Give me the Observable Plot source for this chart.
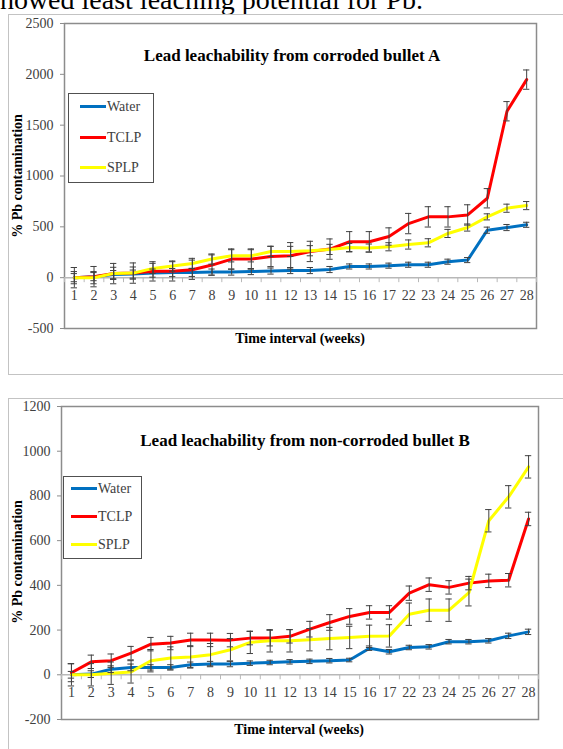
<!DOCTYPE html>
<html>
<head>
<meta charset="utf-8">
<script src="https://cdn.jsdelivr.net/npm/d3@7"></script>
<script src="https://cdn.jsdelivr.net/npm/@observablehq/plot@0.6"></script>
<style>
  body { margin: 0; background: #fff; }
  #page { position: relative; width: 563px; height: 749px; overflow: hidden; background: #fff;
          font-family: "Liberation Serif", "Times New Roman", serif; color: #000; }
  .frame { position: absolute; border: 1px solid #c3c3c3; box-sizing: border-box; }
  .ctitle { position: absolute; font-weight: bold; font-size: 17px; white-space: nowrap; transform: translate(-50%, -50%); }
  .xtitle { position: absolute; font-weight: bold; font-size: 14px; white-space: nowrap; transform: translate(-50%, -50%); }
  .ytitle { position: absolute; font-weight: bold; font-size: 14px; white-space: nowrap; transform: translate(-50%, -50%) rotate(-90deg); }
  .legend { position: absolute; border: 1px solid #505050; box-sizing: border-box; background: #fff; }
  .lg-item { position: absolute; font-size: 14px; color: #404040; white-space: nowrap; line-height: 1; }
  .lg-sw { display: inline-block; width: 26px; height: 3px; vertical-align: middle; margin-right: 1px; position: relative; top: -1px; }
  .intro { position: absolute; left: -11px; top: -14px; font-size: 28px; line-height: 28px; white-space: nowrap; color: #000; }
  svg { position: absolute; left: 0; }
</style>
</head>
<body>
<div id="page">
  <div class="intro">showed least leaching potential for Pb.</div>
  <div class="frame" style="left:8px;top:14px;width:620px;height:361px;"></div>
  <div class="frame" style="left:8px;top:398px;width:620px;height:400px;"></div>
</div>
<script>
// ---------- data ----------
const weeks = ["1","2","3","4","5","6","7","8","9","10","11","12","13","14","15","16","17","22","23","24","25","26","27","28"];
const seriesNames = ["Water", "TCLP", "SPLP"];
const seriesColors = ["#0070C0", "#FF0000", "#FFFF00"];

// Chart A: corroded bullet
const waterA = [0,10,30,35,45,50,52,55,55,60,65,70,70,80,110,110,118,127,127,157,173,467,493,520];
const tclpA  = [0,10,40,45,62,62,78,124,183,183,209,215,258,281,353,353,405,532,598,598,617,781,1637,1948];
const splpA  = [0,0,42,45,91,114,140,183,215,215,258,258,265,278,297,291,304,326,343,435,493,598,683,709];
const waterErrA = [40,40,40,40,40,40,40,30,30,30,30,30,30,30,25,25,25,25,25,25,25,30,30,25];
const tclpErrA  = [100,100,100,100,95,95,95,100,100,100,100,130,100,100,100,100,85,100,100,100,100,95,95,95];
const splpErrA  = [60,60,60,60,50,50,50,50,60,60,50,50,50,50,40,40,40,45,40,40,35,30,40,40];
const yTicksA = [-500, 0, 500, 1000, 1500, 2000, 2500];

// Chart B: non-corroded bullet
const waterB = [0,3,25,33,33,33,45,48,48,52,55,58,60,63,66,119,103,122,125,148,148,152,174,192];
const tclpB  = [9,58,63,97,137,142,156,156,155,164,164,172,204,234,261,279,279,365,403,391,410,420,423,697];
const splpB  = [0,0,7,13,63,75,80,90,112,145,152,152,157,162,167,172,174,271,289,289,368,689,796,930];
const waterErrB = [15,15,15,15,12,12,12,12,12,10,10,10,10,10,8,10,10,10,10,10,10,10,12,12];
const tclpErrB  = [40,30,30,30,30,30,30,30,30,30,35,30,35,35,35,30,30,32,30,30,30,30,30,30];
const splpErrB  = [50,50,50,50,50,50,50,50,50,50,50,50,50,50,50,50,50,50,50,50,60,50,50,50];
const yTicksB = [-200, 0, 200, 400, 600, 800, 1000, 1200];

const titles = ["Lead leachability from corroded bullet A", "Lead leachability from non-corroded bullet B"];
const xTitle = "Time interval (weeks)";
const yTitle = "% Pb contamination";

// ---------- build ----------
const page = document.getElementById("page");

function rows(values, errs) {
  const out = [];
  seriesNames.forEach((s, k) => {
    values[k].forEach((v, i) => out.push({series: s, i, week: weeks[i], v, e: errs[k][i]}));
  });
  return out;
}

function chart(cfg) {
  const data = rows(cfg.values, cfg.errs);
  const n = weeks.length;
  const bounds = d3.range(n + 1).map(k => k - 0.5);
  const labels = weeks.map((w, i) => ({w, i}));
  const errColor = "#404040";
  const capHalf = 0.16;
  const svg = Plot.plot({
    width: 563,
    height: cfg.height,
    marginLeft: cfg.left,
    marginRight: 563 - cfg.right,
    marginTop: cfg.top,
    marginBottom: cfg.height - cfg.bottom,
    style: {background: "transparent", fontFamily: "'Liberation Serif', 'Times New Roman', serif", fontSize: "14px", color: "#404040", overflow: "visible"},
    x: {type: "linear", domain: [-0.5, n - 0.5], axis: null, label: null},
    y: {domain: cfg.yDomain, axis: null, label: null},
    color: {domain: seriesNames, range: seriesColors},
    marks: [
      Plot.frame({stroke: "#8c8c8c", strokeWidth: 1.5}),
      Plot.axisY({ticks: cfg.yTicks, tickSize: 4, tickPadding: 7, tickFormat: d => String(d), label: null, stroke: "#8c8c8c", fill: "#404040", fontSize: 14}),
      Plot.ruleY([0], {stroke: "#b8b8b8", strokeWidth: 1.5}),
      Plot.ruleX(bounds, {x: d => d, y1: () => 0, y2: () => 0, insetBottom: -5, stroke: "#b8b8b8", strokeWidth: 1}),
      Plot.text(labels, {x: "i", y: () => 0, dy: 18, text: "w", fill: "#404040", fontSize: 14}),
      Plot.line(data, {x: "i", y: "v", z: "series", stroke: "series", strokeWidth: 3, strokeLinejoin: "round"}),
      Plot.ruleX(data, {x: "i", y1: d => d.v - d.e, y2: d => d.v + d.e, stroke: errColor, strokeWidth: 1}),
      Plot.ruleY(data, {y: d => d.v + d.e, x1: d => d.i - capHalf, x2: d => d.i + capHalf, stroke: errColor, strokeWidth: 1}),
      Plot.ruleY(data, {y: d => d.v - d.e, x1: d => d.i - capHalf, x2: d => d.i + capHalf, stroke: errColor, strokeWidth: 1})
    ]
  });
  svg.style.top = cfg.svgTop + "px";
  page.appendChild(svg);

  const t = document.createElement("div");
  t.className = "ctitle"; t.textContent = cfg.title;
  t.style.left = cfg.titleX + "px"; t.style.top = cfg.titleY + "px";
  page.appendChild(t);

  const xt = document.createElement("div");
  xt.className = "xtitle"; xt.textContent = xTitle;
  xt.style.left = cfg.xTitleX + "px"; xt.style.top = cfg.xTitleY + "px";
  page.appendChild(xt);

  const yt = document.createElement("div");
  yt.className = "ytitle"; yt.textContent = yTitle;
  yt.style.left = "18px"; yt.style.top = cfg.yTitleY + "px";
  page.appendChild(yt);

  const lg = document.createElement("div");
  lg.className = "legend";
  Object.assign(lg.style, {left: cfg.lg.x + "px", top: cfg.lg.y + "px", width: cfg.lg.w + "px", height: cfg.lg.h + "px"});
  page.appendChild(lg);
  seriesNames.forEach((s, k) => {
    const it = document.createElement("div");
    it.className = "lg-item";
    it.style.left = (cfg.lg.swX - cfg.lg.x - 1) + "px";
    it.style.top = (cfg.lg.rows[k] - cfg.lg.y - 8) + "px";
    const sw = document.createElement("span");
    sw.className = "lg-sw"; sw.style.background = seriesColors[k];
    it.appendChild(sw);
    it.appendChild(document.createTextNode(s));
    lg.appendChild(it);
  });
}

chart({
  values: [waterA, tclpA, splpA], errs: [waterErrA, tclpErrA, splpErrA],
  yDomain: [-500, 2500], yTicks: yTicksA,
  svgTop: 0, height: 372, left: 64, right: 536, top: 23, bottom: 328,
  title: titles[0], titleX: 292, titleY: 56,
  xTitleX: 300, xTitleY: 339, yTitleY: 176,
  lg: {x: 68, y: 93, w: 86, h: 90, swX: 80, rows: [107, 138, 168]}
});

chart({
  values: [waterB, tclpB, splpB], errs: [waterErrB, tclpErrB, splpErrB],
  yDomain: [-200, 1200], yTicks: yTicksB,
  svgTop: 380, height: 369, left: 61, right: 538, top: 26, bottom: 339,
  title: titles[1], titleX: 305, titleY: 441,
  xTitleX: 299, xTitleY: 730, yTitleY: 562,
  lg: {x: 63, y: 476, w: 79, h: 83, swX: 71, rows: [489, 517, 545]}
});
</script>
</body>
</html>
